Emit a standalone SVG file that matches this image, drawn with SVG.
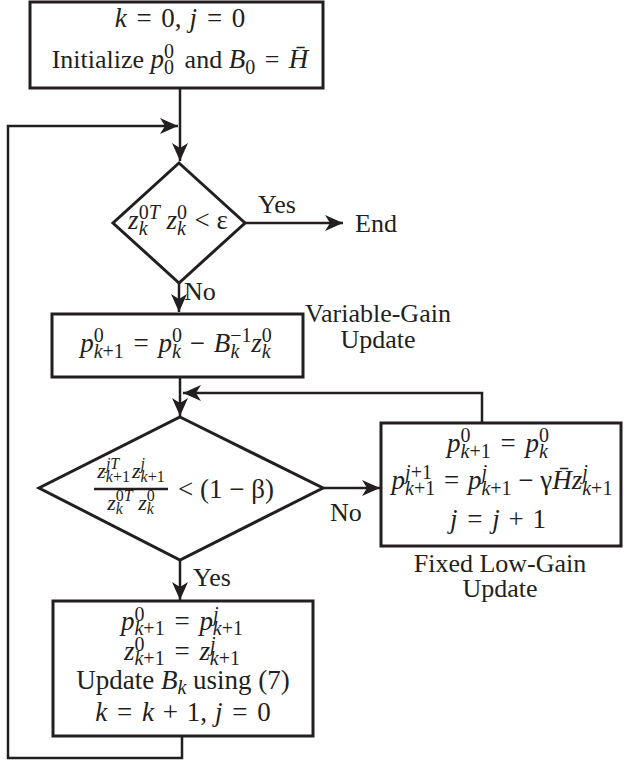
<svg xmlns="http://www.w3.org/2000/svg" width="624" height="761" viewBox="0 0 624 761">
<style>
text{font-family:"Liberation Serif","Times New Roman",serif;font-size:26px;fill:#231f20}
.m{font-size:27px}
.i{font-style:italic}
.s{font-size:20px}
.ss{font-size:16px}
.n{font-size:22px}
.box{fill:#fff;stroke:#231f20;stroke-width:3}
.ln{fill:none;stroke:#231f20;stroke-width:2.5}
</style>
<defs>
<marker id="ah" markerUnits="userSpaceOnUse" markerWidth="20" markerHeight="18" refX="18" refY="8" orient="auto">
<path d="M0,0 L18,8 L0,16 L5,8 z" fill="#231f20"/>
</marker>
</defs>
<rect width="624" height="761" fill="#fff"/>
<g id="connectors">
<path class="ln" d="M180,88 V161" marker-end="url(#ah)"/>
<path class="ln" d="M182,736 V758 H8 V126 H178" marker-end="url(#ah)"/>
<path class="ln" d="M245,223 H343" marker-end="url(#ah)"/>
<path class="ln" d="M179,283 V312" marker-end="url(#ah)"/>
<path class="ln" d="M180,377 V416" marker-end="url(#ah)"/>
<path class="ln" d="M323,488 H380" marker-end="url(#ah)"/>
<path class="ln" d="M482,423 V393 H183" marker-end="url(#ah)"/>
<path class="ln" d="M180,560 V600" marker-end="url(#ah)"/>
</g>
<g id="init">
<rect class="box" x="30" y="2" width="293" height="86"/>
<text class="m" x="180" y="27" text-anchor="middle"><tspan class="i">k</tspan><tspan dx="3"> = </tspan><tspan dx="3">0,</tspan><tspan dx="8" class="i">j</tspan><tspan dx="3"> = </tspan><tspan dx="3">0</tspan></text>
<text x="180" y="68" text-anchor="middle">Initialize <tspan class="i m">p</tspan><tspan class="s" dy="-10">0</tspan><tspan class="s" dx="-10" dy="16">0</tspan><tspan dy="-6" dx="4"> and </tspan><tspan class="i m">B</tspan><tspan class="s" dy="6">0</tspan><tspan dy="-6" dx="3"> = </tspan><tspan class="i m" dx="3">H̄</tspan></text>
</g>
<g id="check1">
<path class="box" d="M179,163 L245,223 L179,283 L113,223 Z"/>
<text class="m" x="178" y="229" text-anchor="middle"><tspan class="i">z</tspan><tspan class="s" dy="-10">0</tspan><tspan class="s i">T</tspan><tspan class="s i" dx="-21" dy="16">k</tspan><tspan dx="12" dy="-6"> </tspan><tspan class="i">z</tspan><tspan class="s" dy="-10">0</tspan><tspan class="s i" dx="-10" dy="16">k</tspan><tspan dy="-6" dx="2"> &lt; ε</tspan></text>
</g>
<g id="end-label">
<text x="258" y="213">Yes</text>
<text x="355" y="232">End</text>
<text x="184" y="300">No</text>
</g>
<g id="vargain">
<rect class="box" x="52" y="314" width="251" height="63"/>
<text class="m" x="176" y="352" text-anchor="middle"><tspan class="i">p</tspan><tspan class="s" dy="-10">0</tspan><tspan class="s i" dx="-10" dy="16">k</tspan><tspan class="s">+1</tspan><tspan dy="-6" dx="3"> = </tspan><tspan class="i" dx="3">p</tspan><tspan class="s" dy="-10">0</tspan><tspan class="s i" dx="-10" dy="16">k</tspan><tspan dy="-6" dx="2"> − </tspan><tspan class="i" dx="2">B</tspan><tspan class="s" dy="-10">−1</tspan><tspan class="s i" dx="-21" dy="16">k</tspan><tspan class="i" dx="12" dy="-6">z</tspan><tspan class="s" dy="-10">0</tspan><tspan class="s i" dx="-10" dy="16">k</tspan></text>
<text x="378" y="322" text-anchor="middle">Variable-Gain</text>
<text x="378" y="348" text-anchor="middle">Update</text>
</g>
<g id="check2">
<path class="box" d="M180,417 L323,488 L180,560 L39,488 Z"/>
<line x1="94" y1="489" x2="168" y2="489" stroke="#231f20" stroke-width="2.5"/>
<text x="131" y="478" text-anchor="middle" class="n"><tspan class="i">z</tspan><tspan class="ss i" dy="-9">j</tspan><tspan class="ss i">T</tspan><tspan class="ss i" dx="-13.4" dy="13">k</tspan><tspan class="ss">+1</tspan><tspan class="i" dy="-4" dx="2">z</tspan><tspan class="ss i" dy="-9">j</tspan><tspan class="ss i" dx="-4.5" dy="13">k</tspan><tspan class="ss">+1</tspan></text>
<text x="131" y="510" text-anchor="middle" class="n"><tspan class="i">z</tspan><tspan class="ss" dy="-9">0</tspan><tspan class="ss i">T</tspan><tspan class="ss i" dx="-16.9" dy="13">k</tspan><tspan dx="9.8" dy="-4"> </tspan><tspan class="i">z</tspan><tspan class="ss" dy="-9">0</tspan><tspan class="ss i" dx="-8" dy="13">k</tspan></text>
<text class="m" x="178" y="498">&lt; (1 − β)</text>
<text x="330" y="521">No</text>
<text x="193" y="586">Yes</text>
</g>
<g id="lowgain">
<rect class="box" x="381" y="423" width="240" height="123"/>
<text class="m" x="498" y="452" text-anchor="middle"><tspan class="i">p</tspan><tspan class="s" dy="-10">0</tspan><tspan class="s i" dx="-10" dy="16">k</tspan><tspan class="s">+1</tspan><tspan dy="-6" dx="3"> = </tspan><tspan class="i" dx="3">p</tspan><tspan class="s" dy="-10">0</tspan><tspan class="s i" dx="-10" dy="16">k</tspan></text>
<text class="m" x="502" y="489" text-anchor="middle"><tspan class="i">p</tspan><tspan class="s i" dy="-10">j</tspan><tspan class="s">+1</tspan><tspan class="s i" dx="-26.9" dy="16">k</tspan><tspan class="s">+1</tspan><tspan dy="-6" dx="2"> = </tspan><tspan class="i" dx="2">p</tspan><tspan class="s i" dy="-10">j</tspan><tspan class="s i" dx="-5.6" dy="16">k</tspan><tspan class="s">+1</tspan><tspan dy="-6"> − γ</tspan><tspan class="i">H̄z</tspan><tspan class="s i" dy="-10">j</tspan><tspan class="s i" dx="-5.6" dy="16">k</tspan><tspan class="s">+1</tspan></text>
<text class="m" x="498" y="528" text-anchor="middle"><tspan class="i">j</tspan><tspan dx="3"> = </tspan><tspan class="i" dx="3">j</tspan><tspan dx="2"> + </tspan><tspan dx="2">1</tspan></text>
<text x="500" y="572" text-anchor="middle">Fixed Low-Gain</text>
<text x="500" y="597" text-anchor="middle">Update</text>
</g>
<g id="bfgs">
<rect class="box" x="53" y="601" width="260" height="135"/>
<text class="m" x="182" y="630" text-anchor="middle"><tspan class="i">p</tspan><tspan class="s" dy="-9">0</tspan><tspan class="s i" dx="-10" dy="14">k</tspan><tspan class="s">+1</tspan><tspan dy="-5" dx="3"> = </tspan><tspan class="i" dx="3">p</tspan><tspan class="s i" dy="-9">j</tspan><tspan class="s i" dx="-5.6" dy="14">k</tspan><tspan class="s">+1</tspan></text>
<text class="m" x="182" y="660" text-anchor="middle"><tspan class="i">z</tspan><tspan class="s" dy="-9">0</tspan><tspan class="s i" dx="-10" dy="14">k</tspan><tspan class="s">+1</tspan><tspan dy="-5" dx="3"> = </tspan><tspan class="i" dx="3">z</tspan><tspan class="s i" dy="-9">j</tspan><tspan class="s i" dx="-5.6" dy="14">k</tspan><tspan class="s">+1</tspan></text>
<text class="m" x="183" y="689" text-anchor="middle">Update <tspan class="i">B</tspan><tspan class="s i" dy="5">k</tspan><tspan dy="-5"> using (7)</tspan></text>
<text class="m" x="183" y="721" text-anchor="middle"><tspan class="i">k</tspan><tspan dx="3"> = </tspan><tspan class="i" dx="3">k</tspan><tspan dx="2"> + </tspan><tspan dx="2">1,</tspan><tspan dx="8" class="i">j</tspan><tspan dx="3"> = </tspan><tspan dx="3">0</tspan></text>
</g>
</svg>
